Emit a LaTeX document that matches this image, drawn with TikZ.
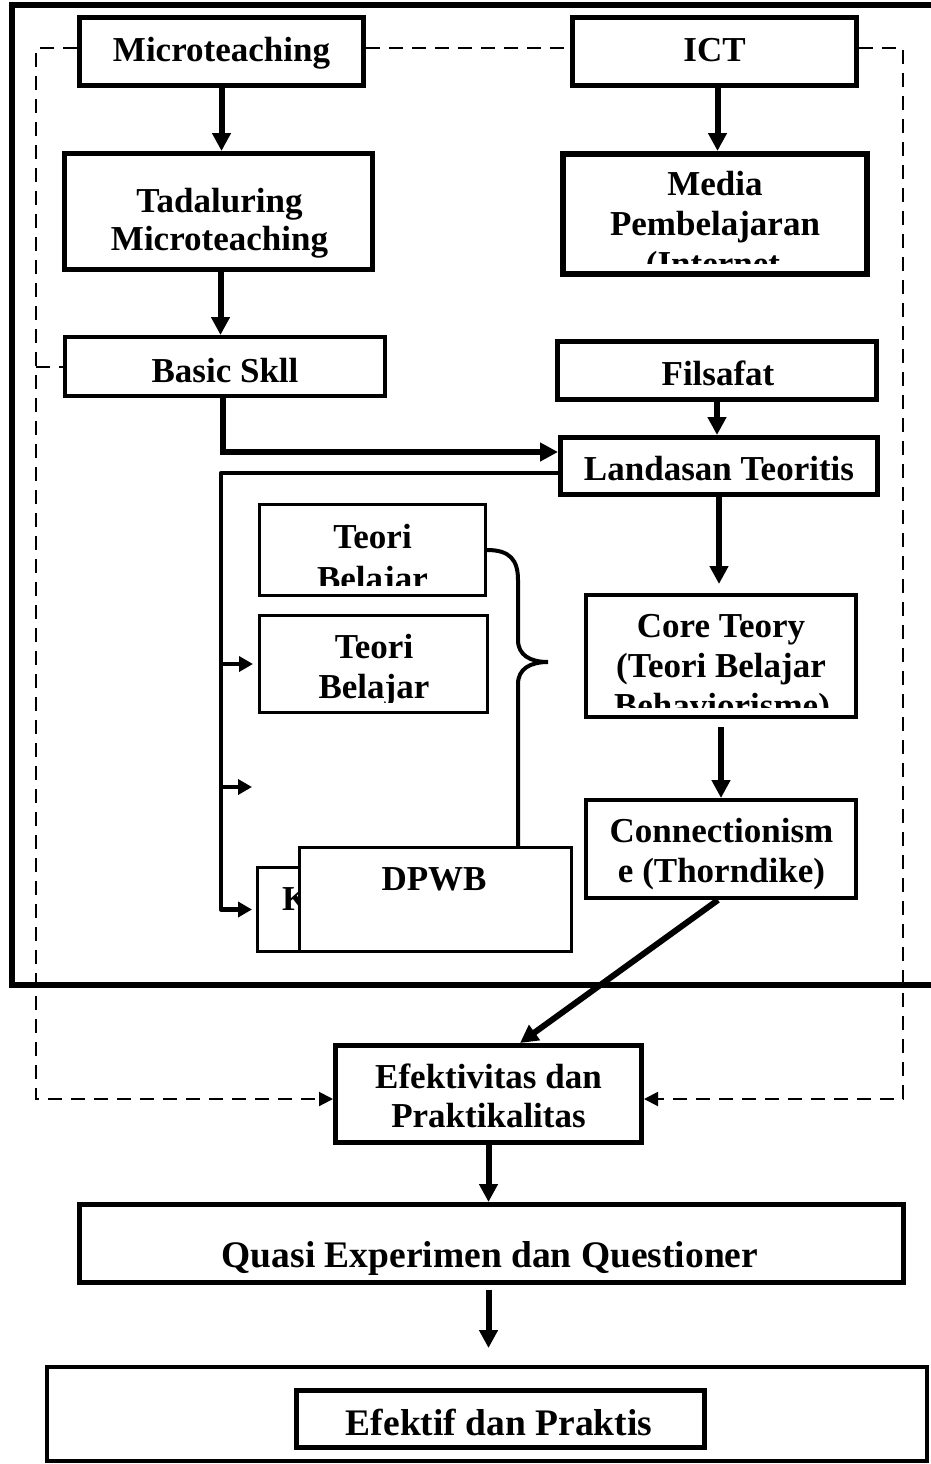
\documentclass[tikz,border=0pt]{standalone}
\usepackage{fontspec}
\setmainfont{Liberation Serif}
\usetikzlibrary{arrows.meta,calc}
\begin{document}
\begin{tikzpicture}[x=1pt,y=-1pt,
  box/.style={draw, fill=white, inner sep=0pt, line width=5pt},
  txt/.style={inner sep=0pt, anchor=base, font=\fontsize{35}{40}\selectfont\bfseries},
  bigtxt/.style={txt, font=\fontsize{37.5}{42}\selectfont\bfseries},
  arr/.style={line width=6pt, -{Triangle[length=18pt,width=18pt]}},
  brarr/.style={line width=4.5pt, -{Triangle[length=14pt,width=15pt]}},
  dsh/.style={line width=2pt, dash pattern=on 14pt off 9pt},
  dsharr/.style={dsh, -{Triangle[length=14pt,width=14pt]}},
]
\useasboundingbox (0,0) rectangle (931,1464);

% outer frame
\draw[line width=6pt] (12,5) rectangle (945,985);

% coordinates for dashed frame and bus
\coordinate (dlb) at (36,1099);
\coordinate (drb) at (903,1099);
\coordinate (bus) at (221,473);
\coordinate (midEnd) at (252,787);

% boxes
\node[box, minimum width=284pt, minimum height=68pt] (micro) at (221.5,51.5) {};
\node[box, minimum width=284pt, minimum height=68pt] (ict) at (714.5,51.5) {};
\node[box, minimum width=308pt, minimum height=116pt] (tad) at (218.5,211.5) {};
\node[box, line width=6pt, minimum width=304pt, minimum height=120pt] (media) at (715,214) {};
\node[box, line width=4pt, minimum width=320pt, minimum height=59pt] (basic) at (225,366.5) {};
\node[box, minimum width=319pt, minimum height=58pt] (filsafat) at (717,370.5) {};
\node[box, minimum width=317pt, minimum height=57pt] (landasan) at (719,466) {};
\node[box, line width=3pt, minimum width=226pt, minimum height=91pt] (teori1) at (372.5,550) {};
\node[box, line width=3pt, minimum width=228pt, minimum height=97pt] (teori2) at (373.5,664) {};
\node[box, line width=4pt, minimum width=270pt, minimum height=122pt] (core) at (721,656) {};
\node[box, line width=4pt, minimum width=270pt, minimum height=98pt] (conn) at (721,849) {};
\node[box, minimum width=306pt, minimum height=97pt] (efek) at (488.5,1094) {};
\node[box, minimum width=824pt, minimum height=78pt] (quasi) at (491.5,1243.5) {};
\node[box, line width=4pt, minimum width=880pt, minimum height=94pt] (outerEf) at (487,1414) {};
\node[box, minimum width=408pt, minimum height=57pt] (innerEf) at (500.5,1419) {};
\node[box, line width=3pt, minimum width=241pt, minimum height=84pt] (kbox) at (378,909.5) {};

% dashed connectors
\draw[dsh] ($(micro.east)+(0,-3.5)$) -- ($(ict.west)+(0,-3.5)$);
\draw[dsharr] ($(micro.west)+(0,-3.5)$) -| (dlb) -- (dlb -| efek.west);
\draw[dsharr] ($(ict.east)+(0,-3.5)$) -| (drb) -- (drb -| efek.east);
\draw[dsh] (dlb |- basic.west) -- (basic.west);

% texts
\node[txt] (microT) at (221.5,62) {Microteaching};
\node[txt] (ictT) at (714.5,62) {ICT};
\node[txt] (tadT1) at (219.5,212) {Tadaluring};
\node[txt] (tadT2) at (219.5,250) {Microteaching};
\node[txt] (mediaT1) at (715,195) {Media};
\node[txt] (mediaT2) at (715,235) {Pembelajaran};
\begin{scope}
  \clip (560,150) rectangle (870,263);
  \node[txt] (mediaT3) at (713,275) {(Internet};
\end{scope}
\node[txt] (basicT) at (225,382) {Basic Skll};
\node[txt] (filsafatT) at (718,385) {Filsafat};
\node[txt] (landasanT) at (719,480) {Landasan Teoritis};
\node[txt] (teori1T1) at (372.5,548) {Teori};
\begin{scope}
  \clip (258,560) rectangle (487,585);
  \node[txt] (teori1T2) at (372.5,590) {Belajar};
\end{scope}
\node[txt] (teori2T1) at (374,658) {Teori};
\begin{scope}
  \clip (258,670) rectangle (489,702);
  \node[txt] (teori2T2) at (374,698) {Belajar};
\end{scope}
\node[txt] (coreT1) at (721,637) {Core Teory};
\node[txt] (coreT2) at (721,677) {(Teori Belajar};
\begin{scope}
  \clip (584,690) rectangle (858,707);
  \node[txt] (coreT3) at (722,717) {Behaviorisme)};
\end{scope}
\node[txt] (connT1) at (721.5,842) {Connectionism};
\node[txt] (connT2) at (721.5,882) {e (Thorndike)};
\node[txt] (efekT1) at (488.5,1088) {Efektivitas dan};
\node[txt] (efekT2) at (488.5,1127) {Praktikalitas};
\node[bigtxt] (quasiT) at (490,1267) {Quasi Experimen dan Questioner};
\node[bigtxt] (efektifT) at (499,1435) {Efektif dan Praktis};

% arrows
\draw[arr] (micro.south) -- (micro.south |- tad.north);
\draw[arr] ($(ict.south)+(3,0)$) -- ($(ict.south |- media.north)+(3,0)$);
\draw[arr] ($(tad.south)+(2,0)$) -- ($(tad.south |- basic.north)+(2,0)$);
\draw[arr, line width=5.5pt] ($(basic.south)+(-2,0)$) |- ($(landasan.west)+(0,-14)$);
\draw[arr] (filsafat.south) -- (filsafat.south |- landasan.north);
\draw[arr, shorten >=9pt] (landasan.south) -- (landasan.south |- core.north);
\draw[arr, shorten <=8pt] (core.south) -- (core.south |- conn.north);
\draw[arr] ($(conn.south)+(-3,0)$) -- ($(efek.north)+(31.5,0)$);
\draw[arr] (efek.south) -- (efek.south |- quasi.north);
\draw[arr, shorten <=5pt, shorten >=17pt] (efek.south |- quasi.south) -- (efek.south |- outerEf.north);

% bus with branch arrows
\draw[brarr, line join=round, shorten >=4pt] ($(landasan.west)+(0,7)$) -| (bus |- kbox.west) -- (kbox.west);
\draw[brarr, shorten >=5pt] (bus |- teori2.west) -- (teori2.west);
\draw[brarr] (bus |- midEnd) -- (midEnd);

% brace
\draw[line width=4pt] (teori1.east) .. controls (510,550) and (518,560) .. (518,580) -- (518,640)
  .. controls (518,655) and (530,662) .. (548,662)
  .. controls (530,662) and (518,669) .. (518,684) -- (518,850);

% K text and DPWB box on top
\node[txt, anchor=base west] (kT) at (282,910) {K};
\node[box, line width=3pt, minimum width=272pt, minimum height=104pt] (dpwb) at (435.5,899.5) {};
\node[txt] (dpwbT) at (434,890) {DPWB};
\end{tikzpicture}
\end{document}
